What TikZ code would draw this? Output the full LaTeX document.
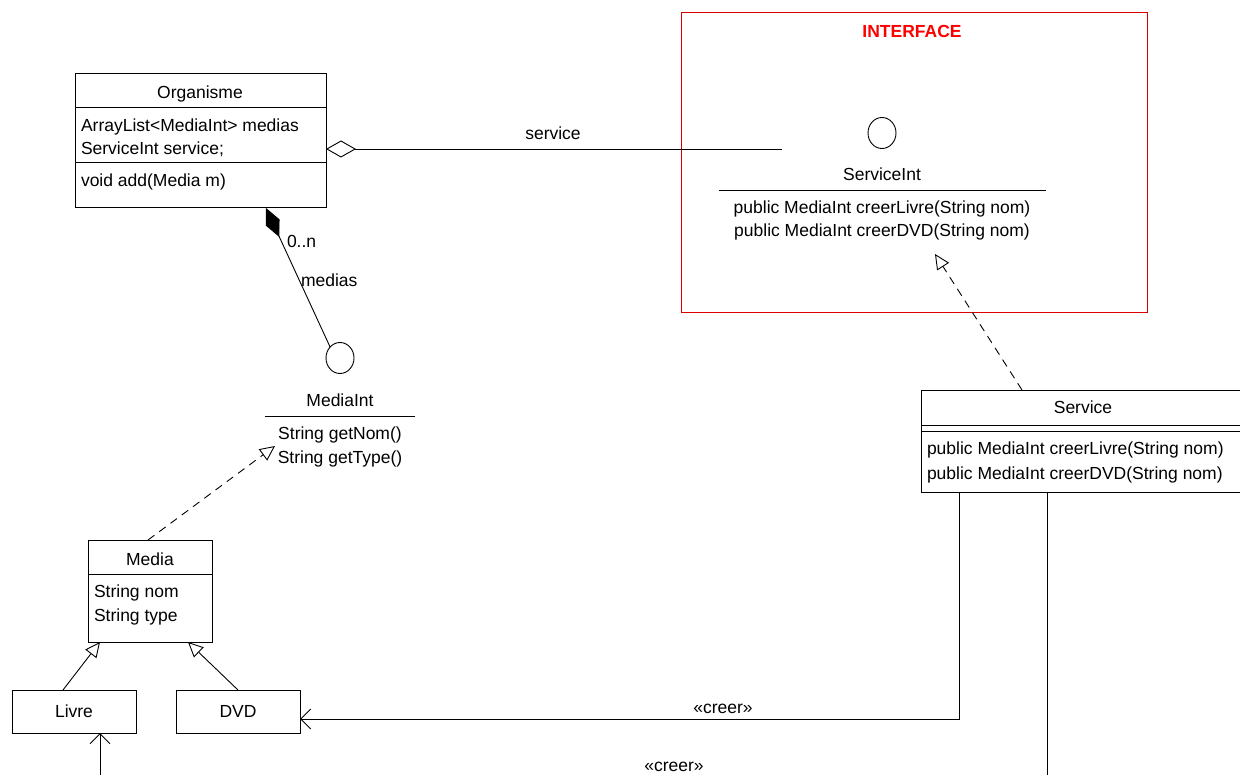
\documentclass[tikz,border=0pt]{standalone}
\usepackage{fontspec}
\setmainfont{Liberation Sans}
\usetikzlibrary{arrows.meta,shapes.geometric}
\begin{document}
\begin{tikzpicture}[x=1pt,y=-1pt,
  every node/.style={inner sep=0pt,outer sep=0pt,font=\fontsize{17.5}{20}\selectfont},
  box/.style={draw,line width=0.9pt,fill=white,anchor=north west},
  txt/.style={anchor=base west},
  ctxt/.style={anchor=base},
  ln/.style={line width=0.9pt},
  real/.style={ln,dashed,dash pattern=on 8pt off 6pt,-{Triangle[open,length=15pt,width=14pt,fill=white]}},
  gen/.style={ln,-{Triangle[open,length=15pt,width=14pt,fill=white]}},
  dep/.style={ln,-{Straight Barb[length=10pt,width=20pt,line width=0.9pt]}},
  iface/.style={ellipse,draw,line width=0.9pt,minimum width=28pt,minimum height=31pt}
]
\useasboundingbox (0,0) rectangle (1240,775);
\fill[white] (0,0) rectangle (1240,775);

% INTERFACE frame
\node (frame) [draw=red!85!black,line width=0.9pt,anchor=north west,minimum width=466pt,minimum height=300pt] at (681,12) {};
\node (ftitle) [ctxt,text=red,font=\fontsize{17.5}{20}\selectfont\bfseries] at (912,38) {INTERFACE};

% Organisme
\node (org) [box,minimum width=251pt,minimum height=134pt] at (75,73) {};
\draw[ln] (75,107) -- (326,107);
\draw[ln] (75,162) -- (326,162);
\node (orgT) [ctxt] at (200,99) {Organisme};
\node (orgA1) [txt] at (81,132) {ArrayList<MediaInt> medias};
\node (orgA2) [txt] at (81,155) {ServiceInt service;};
\node (orgM1) [txt] at (81,187) {void add(Media m)};

% ServiceInt
\node (si) [iface] at (882,133) {};
\node (siName) [ctxt] at (882,181) {ServiceInt};
\draw[ln] (719,190) -- (1046,190);
\node (siM1) [ctxt] at (882,214) {public MediaInt creerLivre(String nom)};
\node (siM2) [ctxt] at (882,237) {public MediaInt creerDVD(String nom)};
\coordinate (siTip) at (935,254);
\coordinate (svcEnd) at (782,149);

% aggregation
\draw[ln,{Diamond[open,length=30pt,width=17pt,fill=white]}-] (org.east |- 0,149) -- (svcEnd);
\node (lblService) [ctxt] at (553,140) {service};

% MediaInt
\node (mi) [iface] at (340,358) {};
\node (miName) [ctxt] at (340,407) {MediaInt};
\draw[ln] (265,416) -- (415,416);
\node (miM1) [ctxt] at (340,440) {String getNom()};
\node (miM2) [ctxt] at (340,464) {String getType()};
\coordinate (miTip) at (275,446);

% composition
\coordinate (compStart) at (266,208);
\draw[ln,{Diamond[length=32pt,width=15pt]}-] (compStart) -- (mi.north west);
\node (lblN) [txt] at (287,248) {0..n};
\node (lblMedias) [txt] at (301,287) {medias};

% Media
\node (media) [box,minimum width=124pt,minimum height=102pt] at (88,540) {};
\draw[ln] (88,574) -- (212,574);
\node (mediaT) [ctxt] at (150,565) {Media};
\node (mediaA1) [txt] at (94,597) {String nom};
\node (mediaA2) [txt] at (94,621) {String type};

% Livre, DVD
\node (livre) [box,minimum width=124pt,minimum height=43pt] at (12,690) {};
\node (livreT) [ctxt] at (74,717) {Livre};
\node (dvd) [box,minimum width=124pt,minimum height=43pt] at (176,690) {};
\node (dvdT) [ctxt] at (238,717) {DVD};

% Service
\node (svc) [box,minimum width=330pt,minimum height=102pt] at (921,390) {};
\draw[ln] (921,425) -- (1251,425);
\draw[ln] (921,431) -- (1251,431);
\node (svcT) [ctxt] at (1083,414) {Service};
\node (svcM1) [txt] at (927,455) {public MediaInt creerLivre(String nom)};
\node (svcM2) [txt] at (927,479) {public MediaInt creerDVD(String nom)};

% realizations
\draw[real] (svc.north -| 1022,0) -- (siTip);
\draw[real] (media.north -| 148,0) -- (miTip);

% generalizations
\draw[gen] (livre.north -| 63,0) -- (media.south -| 100,0);
\draw[gen] (dvd.north -| 238,0) -- (media.south -| 188,0);

% creer dependencies
\coordinate (c1) at (959,719);
\draw[dep] (svc.south -| 959,0) -- (c1) -- (dvd.east |- c1);
\node (lblCreer1) [ctxt] at (723,713) {«creer»};
\coordinate (c2) at (1047,776);
\draw[ln] (svc.south -| 1047,0) -- (c2);
\node (lblCreer2) [ctxt] at (674,771) {«creer»};
\coordinate (c3) at (100,776);
\draw[dep] (c3) -- (livre.south -| 100,0);
\end{tikzpicture}
\end{document}
